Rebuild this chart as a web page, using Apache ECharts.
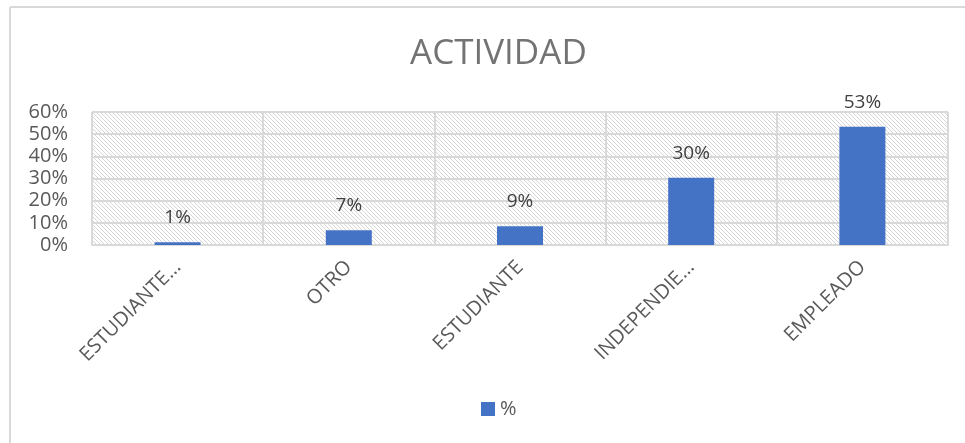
<!DOCTYPE html>
<html>
<head>
<meta charset="utf-8">
<script src="https://cdn.jsdelivr.net/npm/echarts@6/dist/echarts.min.js"></script>
<style>
  html, body { margin: 0; padding: 0; background: #fff; }
  #main { width: 965px; height: 443px; }
</style>
</head>
<body>
<div id="main"></div>
<script>
const categories = ['ESTUDIANTE…', 'OTRO', 'ESTUDIANTE', 'INDEPENDIE…', 'EMPLEADO']
const values = [0.012, 0.066, 0.085, 0.303, 0.533]
const yTicks = [0, 0.1, 0.2, 0.3, 0.4, 0.5, 0.6]
const seriesName = '%'

// trama diagonal del fondo del área de trazado
const hatch = document.createElement('canvas')
hatch.width = 4
hatch.height = 4
const ctx = hatch.getContext('2d')
ctx.fillStyle = '#fff'
ctx.fillRect(0, 0, 4, 4)
ctx.fillStyle = '#d6d6d6'
for (let i = 0; i < 4; i++) ctx.fillRect(i, i, 1, 1)

const chart = echarts.init(document.getElementById('main'))
chart.setOption({
  animation: false,
  title: {
    text: 'ACTIVIDAD',
    left: 405,
    top: 32,
    textStyle: { fontFamily: 'Open Sans', fontSize: 35, fontWeight: 'normal', color: '#737373' }
  },
  graphic: [
    { type: 'line', shape: { x1: 10, y1: 7, x2: 965, y2: 7 }, style: { stroke: '#d9d9d9', lineWidth: 2 } },
    { type: 'line', shape: { x1: 10, y1: 7, x2: 10, y2: 443 }, style: { stroke: '#d9d9d9', lineWidth: 2 } }
  ],
  grid: {
    left: 92, right: 17, top: 112, bottom: 198,
    show: true,
    borderWidth: 0,
    backgroundColor: { image: hatch, repeat: 'repeat' }
  },
  legend: {
    top: 394,
    left: 476,
    itemWidth: 14,
    itemHeight: 14,
    itemGap: 8,
    icon: 'rect',
    textStyle: { fontFamily: 'Open Sans', fontSize: 20, color: '#595959' },
    data: [seriesName]
  },
  xAxis: {
    type: 'category',
    data: categories,
    axisLine: { lineStyle: { color: '#d9d9d9', width: 2 } },
    axisTick: { show: false },
    splitLine: { show: true, lineStyle: { color: '#d9d9d9', width: 2 } },
    axisLabel: {
      rotate: 45,
      margin: 19,
      fontFamily: 'Open Sans',
      fontSize: 20,
      color: '#595959'
    }
  },
  yAxis: {
    type: 'value',
    min: yTicks[0],
    max: yTicks[yTicks.length - 1],
    interval: 0.1,
    axisLine: { show: false },
    axisTick: { show: false },
    splitLine: { lineStyle: { color: '#d9d9d9', width: 2 } },
    axisLabel: {
      margin: 24,
      fontFamily: 'Open Sans',
      fontSize: 20,
      color: '#595959',
      formatter: v => Math.round(v * 100) + '%'
    }
  },
  series: [{
    name: seriesName,
    type: 'bar',
    data: values,
    barWidth: 46,
    itemStyle: { color: '#4472c4' },
    label: {
      show: true,
      position: 'top',
      distance: 15,
      fontFamily: 'Open Sans',
      fontSize: 19,
      color: '#404040',
      formatter: p => Math.round(p.value * 100) + '%'
    }
  }]
})
</script>
</body>
</html>
